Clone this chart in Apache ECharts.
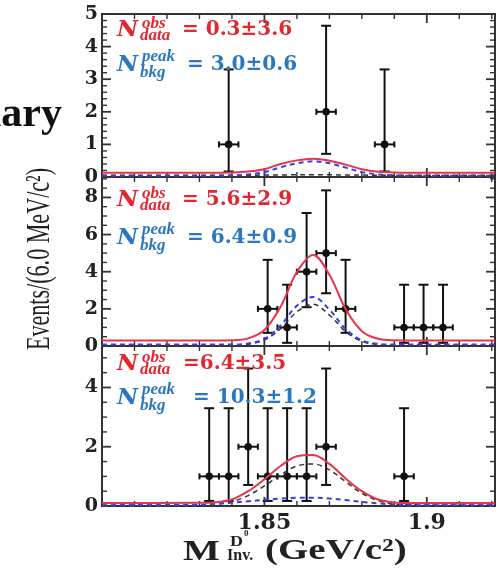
<!DOCTYPE html>
<html>
<head>
<meta charset="utf-8">
<script src="https://cdn.jsdelivr.net/npm/echarts@6/dist/echarts.min.js"></script>
<style>
  html, body { margin: 0; padding: 0; background: #fff; }
  #chart { width: 500px; height: 569px; }
</style>
</head>
<body>
<div id="chart"></div>
<script>
// ---------------- data ----------------
// Invariant-mass window (GeV/c^2) and half bin width (6 MeV bins)
const massRange = [1.80, 1.921];
const binHalfWidth = 0.003;

// Top panel: bin centres, counts, Poisson interval (low/high)
const bins1 = [1.839, 1.869, 1.887];
const counts1 = [1, 2, 1];
const low1 = [0.17, 0.71, 0.17];
const high1 = [3.30, 4.64, 3.30];

// Middle panel
const bins2 = [1.851, 1.857, 1.863, 1.869, 1.875, 1.893, 1.899, 1.905];
const counts2 = [2, 1, 4, 5, 2, 1, 1, 1];
const low2 = [0.71, 0.17, 2.09, 2.84, 0.71, 0.17, 0.17, 0.17];
const high2 = [4.64, 3.30, 7.16, 8.38, 4.64, 3.30, 3.30, 3.30];

// Bottom panel
const bins3 = [1.833, 1.839, 1.845, 1.851, 1.857, 1.863, 1.869, 1.893];
const counts3 = [1, 1, 2, 1, 1, 1, 2, 1];
const low3 = [0.17, 0.17, 0.71, 0.17, 0.17, 0.17, 0.71, 0.17];
const high3 = [3.30, 3.30, 4.64, 3.30, 3.30, 3.30, 4.64, 3.30];

// Fit curves sampled along the mass axis
const curveMass = [1.80, 1.83, 1.835, 1.84, 1.845, 1.85, 1.855, 1.86, 1.865, 1.87, 1.875, 1.88, 1.885, 1.89, 1.895, 1.921];

const totalFit1 = [0.13, 0.13, 0.13, 0.14, 0.17, 0.24, 0.40, 0.51, 0.56, 0.50, 0.38, 0.24, 0.16, 0.14, 0.13, 0.13];
const blueComp1 = [0.04, 0.04, 0.04, 0.05, 0.08, 0.15, 0.30, 0.42, 0.48, 0.42, 0.29, 0.15, 0.08, 0.05, 0.04, 0.04];
const blackComp1 = [0.05, 0.05, 0.05, 0.05, 0.05, 0.06, 0.06, 0.07, 0.07, 0.07, 0.06, 0.06, 0.05, 0.05, 0.05, 0.05];

const totalFit2 = [0.30, 0.30, 0.30, 0.31, 0.41, 0.86, 2.12, 3.98, 4.90, 3.84, 1.99, 0.80, 0.39, 0.31, 0.30, 0.30];
const blueComp2 = [0.08, 0.08, 0.08, 0.08, 0.14, 0.38, 1.10, 2.17, 2.64, 1.96, 0.92, 0.30, 0.12, 0.08, 0.08, 0.08];
const blackComp2 = [0.05, 0.05, 0.05, 0.05, 0.10, 0.32, 0.93, 1.84, 2.25, 1.67, 0.78, 0.25, 0.08, 0.05, 0.05, 0.05];

const totalFit3 = [0.10, 0.11, 0.13, 0.22, 0.50, 0.90, 1.35, 1.68, 1.72, 1.42, 0.93, 0.50, 0.22, 0.12, 0.10, 0.10];
const blueComp3 = [0.02, 0.04, 0.07, 0.11, 0.16, 0.21, 0.25, 0.28, 0.28, 0.25, 0.20, 0.14, 0.09, 0.05, 0.03, 0.02];
const blackComp3 = [0.03, 0.04, 0.06, 0.15, 0.35, 0.68, 1.05, 1.35, 1.42, 1.22, 0.82, 0.43, 0.18, 0.07, 0.04, 0.03];

// Axis scales and tick labels
const yMax = [5, 9.1, 5.4];
const yMajor = [1, 2, 2];
const yMinor = [0.2, 0.5, 0.5];
const xMajor = 0.05;
const xMinor = 0.01;
const xTickValues = [1.85, 1.9];
const xTickText = ['1.85', '1.9'];

// Fit-result annotations
const obsText = ['= 0.3\u00b13.6', '= 5.6\u00b12.9', '=6.4\u00b13.5'];
const bkgText = ['= 3.0\u00b10.6', '= 6.4\u00b10.9', '= 10.3\u00b11.2'];

// ---------------- layout ----------------
const panelTop = [14, 177, 346];
const panelHeight = [163, 169, 160];
const plotLeft = 102, plotWidth = 393;
const obsY = [30, 200, 364];
const bkgY = [65, 238, 398];
const obsEqX = [182, 182, 183];
const bkgEqX = [187, 187, 193];

const RED = '#e3262f';
const BLUE = '#2b78c0';
const CURVE_RED = '#e8344a';
const CURVE_BLUE = '#3a3fd8';
const FRAME = '#333';

const panels = [
  { bins: bins1, counts: counts1, low: low1, high: high1, total: totalFit1, blue: blueComp1, black: blackComp1 },
  { bins: bins2, counts: counts2, low: low2, high: high2, total: totalFit2, blue: blueComp2, black: blackComp2 },
  { bins: bins3, counts: counts3, low: low3, high: high3, total: totalFit3, blue: blueComp3, black: blackComp3 }
];

function near(a, b) { return Math.abs(a - b) < 1e-6; }
function frameLine() { return { show: true, onZero: false, lineStyle: { color: FRAME, width: 2 } }; }

// Tick positions along an axis
function steps(min, max, step) {
  const out = [];
  const n = Math.floor((max - min) / step + 1e-9);
  for (let k = 0; k <= n; k++) out.push(+(min + k * step).toFixed(6));
  return out;
}
function isMultiple(v, step, origin) {
  const r = (v - origin) / step;
  return near(r, Math.round(r));
}

function xAxesFor(i) {
  function base() {
    return { gridIndex: i, type: 'value', min: massRange[0], max: massRange[1], interval: xMajor,
             splitLine: { show: false }, axisTick: { show: false }, axisLine: frameLine() };
  }
  const label = i === 2 ? {
    show: true, margin: 6, fontFamily: 'DejaVu Serif', fontWeight: 'bold', fontSize: 22, color: '#222',
    formatter: function (v) {
      for (let k = 0; k < xTickValues.length; k++) if (near(v, xTickValues[k])) return xTickText[k];
      return '';
    }
  } : { show: false };
  return [
    Object.assign(base(), { position: 'bottom', axisLabel: label }),
    Object.assign(base(), { position: 'top', axisLabel: { show: false } })
  ];
}

function yAxesFor(i) {
  function base() {
    return { gridIndex: i, type: 'value', min: 0, max: yMax[i], interval: yMajor[i],
             splitLine: { show: false }, axisTick: { show: false }, axisLine: frameLine() };
  }
  const step = yMajor[i];
  const label = {
    show: true, margin: 4, fontFamily: 'DejaVu Serif', fontWeight: 'bold', fontSize: 19, color: '#222',
    formatter: function (v) { return isMultiple(v, step, 0) ? String(Math.round(v)) : ''; }
  };
  return [
    Object.assign(base(), { position: 'left', axisLabel: label }),
    Object.assign(base(), { position: 'right', axisLabel: { show: false } })
  ];
}

// Inward-pointing major/minor ticks on all four sides of a panel
function frameTicks(i, api, cs) {
  const children = [];
  const top = cs.y, bottom = cs.y + cs.height, left = cs.x, right = cs.x + cs.width;
  function seg(x1, y1, x2, y2, w) {
    children.push({ type: 'line', shape: { x1: x1, y1: y1, x2: x2, y2: y2 }, style: { stroke: FRAME, lineWidth: w } });
  }
  steps(massRange[0], massRange[1], xMinor).forEach(function (v) {
    const major = isMultiple(v, xMajor, massRange[0]);
    const len = major ? 9 : 5, w = major ? 1.8 : 1.4;
    const px = api.coord([v, 1])[0];
    seg(px, bottom, px, bottom - len, w);
    seg(px, top, px, top + len, w);
  });
  steps(0, yMax[i], yMinor[i]).forEach(function (v) {
    const major = isMultiple(v, yMajor[i], 0);
    const len = major ? 9 : 5, w = major ? 1.8 : 1.4;
    const py = api.coord([1.86, v])[1];
    seg(left, py, left + len, py, w);
    seg(right, py, right - len, py, w);
  });
  return children;
}

// Data point with vertical Poisson interval and horizontal bin-width bar;
// the first item of each panel also carries the frame ticks
function pointRenderer(i) {
  return function (params, api) {
    const x = api.value(0), y = api.value(1), lo = api.value(2), hi = api.value(3);
    const c = api.coord([x, y]);
    const top = api.coord([x, hi]);
    const bot = api.coord([x, lo]);
    const left = api.coord([x - binHalfWidth, y]);
    const right = api.coord([x + binHalfWidth, y]);
    const s = { stroke: '#111', lineWidth: 2 };
    const children = [
      { type: 'line', shape: { x1: c[0], y1: top[1], x2: c[0], y2: bot[1] }, style: s },
      { type: 'line', shape: { x1: c[0] - 5, y1: top[1], x2: c[0] + 5, y2: top[1] }, style: s },
      { type: 'line', shape: { x1: c[0] - 5, y1: bot[1], x2: c[0] + 5, y2: bot[1] }, style: s },
      { type: 'line', shape: { x1: left[0], y1: c[1], x2: right[0], y2: c[1] }, style: s },
      { type: 'line', shape: { x1: left[0], y1: c[1] - 3, x2: left[0], y2: c[1] + 3 }, style: s },
      { type: 'line', shape: { x1: right[0], y1: c[1] - 3, x2: right[0], y2: c[1] + 3 }, style: s },
      { type: 'circle', shape: { cx: c[0], cy: c[1], r: 3.8 }, style: { fill: '#111' } }
    ];
    if (params.dataIndex === 0) {
      Array.prototype.push.apply(children, frameTicks(i, api, params.coordSys));
    }
    return { type: 'group', children: children };
  };
}

function zip(xs, ys) { return xs.map(function (x, k) { return [x, ys[k]]; }); }

const grids = [], xAxes = [], yAxes = [], series = [];
panels.forEach(function (p, i) {
  grids.push({ left: plotLeft, top: panelTop[i], width: plotWidth, height: panelHeight[i] });
  xAxes.push.apply(xAxes, xAxesFor(i));
  yAxes.push.apply(yAxes, yAxesFor(i));
  const xi = 2 * i, yi = 2 * i;
  series.push({
    type: 'custom', xAxisIndex: xi, yAxisIndex: yi, z: 2, silent: true, clip: false,
    renderItem: pointRenderer(i),
    encode: { x: 0, y: 1 },
    data: p.bins.map(function (b, k) { return [b, p.counts[k], p.low[k], p.high[k]]; })
  });
  series.push({
    type: 'line', xAxisIndex: xi, yAxisIndex: yi, z: 3, silent: true, showSymbol: false, smooth: 0.35,
    lineStyle: { color: '#333', width: 1.5, type: [5, 4] }, data: zip(curveMass, p.black)
  });
  series.push({
    type: 'line', xAxisIndex: xi, yAxisIndex: yi, z: 3, silent: true, showSymbol: false, smooth: 0.35,
    lineStyle: { color: CURVE_BLUE, width: 2, type: [5, 4] }, data: zip(curveMass, p.blue)
  });
  series.push({
    type: 'line', xAxisIndex: xi, yAxisIndex: yi, z: 4, silent: true, showSymbol: false, smooth: 0.35,
    lineStyle: { color: CURVE_RED, width: 2 }, data: zip(curveMass, p.total)
  });
});

// ---------------- text ----------------
function txt(text, x, y, font, fill, align, extra) {
  return Object.assign({
    type: 'text', x: x, y: y, silent: true, z: 10,
    style: { text: text, font: font, fill: fill, align: align || 'left', verticalAlign: 'middle',
             textAlign: align || 'left', textVerticalAlign: 'middle' }
  }, extra || {});
}

const graphics = [];
const nFont = 'italic bold 23px "DejaVu Serif"';
const scriptFont = 'italic bold 17px "Liberation Serif"';
const valFont = 'bold 20px "DejaVu Serif"';
for (let i = 0; i < 3; i++) {
  graphics.push(txt('N', 117, obsY[i], nFont, RED));
  graphics.push(txt('obs', 142, obsY[i] - 6, scriptFont, RED));
  graphics.push(txt('data', 140, obsY[i] + 6, scriptFont, RED));
  graphics.push(txt(obsText[i], obsEqX[i], obsY[i], valFont, RED));
  graphics.push(txt('N', 117, bkgY[i], nFont, BLUE));
  graphics.push(txt('peak', 142, bkgY[i] - 8, scriptFont, BLUE));
  graphics.push(txt('bkg', 140, bkgY[i] + 8, scriptFont, BLUE));
  graphics.push(txt(bkgText[i], bkgEqX[i], bkgY[i], valFont, BLUE));
}

// Watermark word, mostly beyond the left edge
graphics.push(txt('Preliminary', 62, 115, 'bold 42px "Liberation Serif"', '#111', 'right'));

// Y-axis title (condensed serif, reading upwards)
graphics.push(txt('Events/(6.0 MeV/c\u00b2)', 40, 259, '34px "Liberation Serif"', '#222', 'center',
  { rotation: Math.PI / 2, scaleX: 0.65 }));

// X-axis title: M with D0 superscript and "Inv." subscript
const titleFont = 'bold 30px "Liberation Serif"';
graphics.push(txt('M', 183, 552, titleFont, '#222', 'left', { scaleX: 1.3 }));
graphics.push(txt('D', 230, 542, 'bold 15px "Liberation Serif"', '#222', 'left', { scaleX: 1.2 }));
graphics.push(txt('0', 244, 534, 'bold 9px "Liberation Serif"', '#222', 'left'));
graphics.push(txt('Inv.', 227, 556, 'bold 16px "Liberation Serif"', '#222', 'left'));
graphics.push(txt('(GeV/c\u00b2)', 265, 551, titleFont, '#222', 'left', { scaleX: 1.3 }));

const chart = echarts.init(document.getElementById('chart'), null, { renderer: 'canvas' });
chart.setOption({
  animation: false,
  backgroundColor: '#fff',
  grid: grids,
  xAxis: xAxes,
  yAxis: yAxes,
  series: series,
  graphic: { elements: graphics }
});
</script>
</body>
</html>
